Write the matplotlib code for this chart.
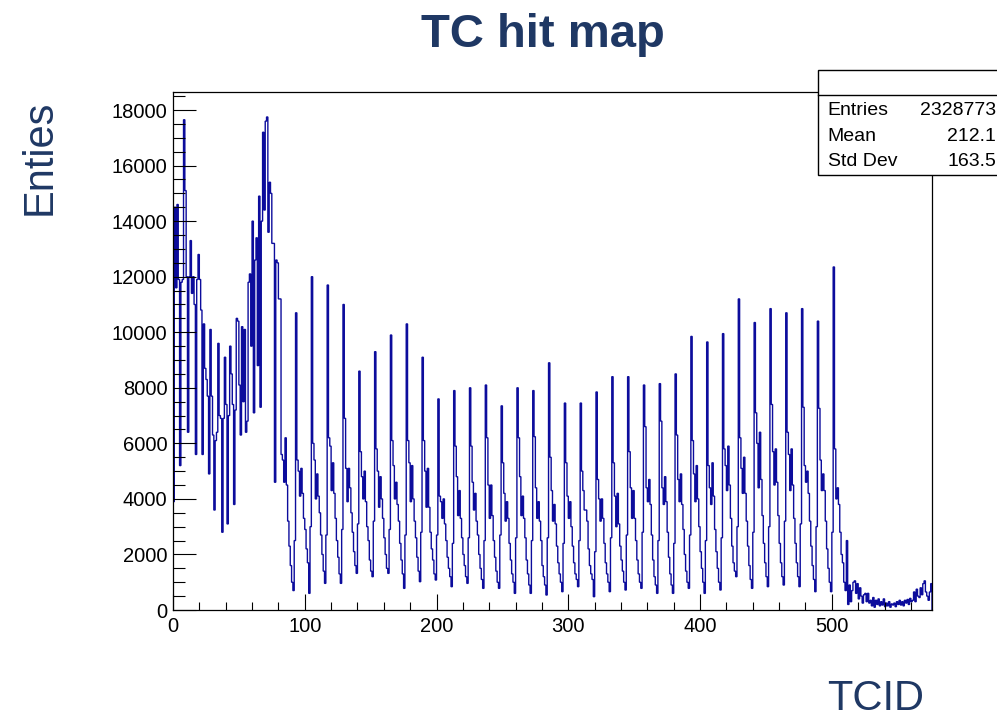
import numpy as np
import matplotlib
matplotlib.use("Agg")
import matplotlib.pyplot as plt
from matplotlib.patches import Rectangle
from matplotlib.lines import Line2D
from matplotlib.ticker import MultipleLocator

plt.rcParams['font.family'] = ['Liberation Sans', 'DejaVu Sans']

# Hits per trigger cell, TCID 0..80 (forward endcap)
forward_endcap = [
    3900, 14500, 11600, 14600, 11900, 5200, 11800, 11900, 17650, 15100,
    12000, 6400, 12000, 13300, 11400, 12000, 11000, 5600, 11900, 12800,
    11900, 10800, 5600, 10300, 8700, 8300, 7700, 4900, 10100, 7700,
    6300, 3600, 6100, 6400, 9600, 7000, 6900, 2800, 6900, 9100,
    7400, 3100, 7000, 9500, 8500, 7400, 3800, 7200, 10500, 10400,
    8100, 6300, 10200, 7500, 10100, 6400, 6800, 11800, 12100, 9500,
    14000, 7100, 12600, 13400, 8800, 14900, 7300, 14000, 17200, 14400,
    17600, 17750, 13600, 15400, 15000, 13200, 13200, 4600, 12600, 12500,
    11200,
]

# Barrel, TCID 81..512: one row of 12 cells per phi sector
barrel = [
    [11200, 5600, 5400, 4600, 6200, 4500, 3200, 2300, 1600, 1000, 700, 2500],
    [10700, 5400, 5000, 4100, 5100, 4200, 3300, 2900, 2200, 1700, 600, 3000],
    [12000, 6000, 5400, 4000, 4900, 4100, 3500, 2700, 2000, 1400, 960, 2700],
    [11700, 6200, 5900, 4300, 5300, 4200, 3300, 2500, 1900, 1300, 960, 2900],
    [11000, 6900, 5100, 3900, 5100, 4400, 3500, 2800, 2100, 1600, 1320, 3100],
    [8600, 5700, 4800, 4000, 5000, 3900, 3000, 2500, 1800, 1400, 1200, 3200],
    [9300, 5800, 5000, 3700, 4800, 4000, 3300, 2600, 2000, 1500, 1320, 2900],
    [9900, 6100, 5200, 4000, 4600, 3800, 3200, 2400, 1800, 1300, 780, 2700],
    [10300, 6100, 5300, 3900, 5200, 4000, 3200, 2600, 1900, 1400, 1020, 2800],
    [9100, 6100, 5000, 3700, 5100, 3700, 2800, 2200, 1800, 1300, 1080, 2700],
    [7600, 4100, 3900, 3300, 4000, 3100, 2500, 1900, 1500, 1200, 840, 2400],
    [7900, 5900, 4800, 3400, 4300, 3300, 2600, 2000, 1600, 1200, 960, 2600],
    [8000, 5900, 4600, 3600, 4200, 3200, 2700, 2000, 1500, 1100, 780, 2500],
    [8100, 6200, 4500, 3300, 4500, 3400, 2500, 1900, 1400, 1000, 780, 2700],
    [7350, 5300, 4200, 3200, 3900, 3300, 2400, 1800, 1300, 1000, 600, 2600],
    [8000, 6200, 4800, 3400, 4100, 3300, 2600, 1800, 1300, 900, 600, 2500],
    [7900, 6240, 4400, 3300, 3900, 3200, 2500, 1600, 1200, 900, 540, 2600],
    [8900, 5500, 4300, 3200, 3800, 3100, 2300, 1700, 1300, 1000, 660, 2400],
    [7450, 5300, 4100, 3300, 3900, 3000, 2300, 1700, 1300, 1100, 840, 2500],
    [7450, 5000, 4300, 3600, 3600, 3200, 2200, 1600, 1300, 1100, 480, 2100],
    [7850, 4700, 4000, 3200, 4000, 3300, 2400, 1700, 1300, 1000, 660, 2600],
    [8400, 5300, 4100, 3000, 4200, 3100, 2300, 1800, 1400, 1000, 720, 2700],
    [8400, 5700, 4400, 3300, 4300, 3300, 2500, 1800, 1300, 1000, 780, 2800],
    [8100, 6600, 4400, 3900, 4700, 3800, 2700, 1800, 1200, 900, 600, 2500],
    [8150, 6800, 4400, 3800, 4800, 3900, 2800, 1900, 1300, 900, 600, 2400],
    [8500, 6300, 4700, 3900, 4900, 3800, 2900, 2000, 1400, 1000, 780, 2700],
    [9850, 6100, 4900, 3900, 5200, 4000, 3000, 2100, 1500, 1000, 600, 2500],
    [9650, 5200, 4400, 3800, 5300, 4100, 2900, 2100, 1500, 1000, 720, 2600],
    [9950, 5800, 5200, 4300, 5900, 4500, 3300, 2300, 1700, 1400, 1200, 3000],
    [11200, 6200, 5100, 4200, 5500, 4200, 3200, 2300, 1600, 1100, 780, 2800],
    [10350, 7100, 6000, 4400, 6400, 4700, 3400, 2400, 1700, 1200, 840, 3000],
    [10850, 7400, 5700, 4500, 5800, 4600, 3400, 2400, 1700, 1200, 900, 3200],
    [10700, 6400, 5600, 4300, 5800, 4500, 3300, 2400, 1700, 1200, 840, 3100],
    [10850, 7300, 5200, 4600, 5000, 4200, 3200, 2300, 1600, 1100, 660, 3000],
    [10400, 7260, 5400, 4300, 4900, 4300, 3200, 2200, 1500, 1000, 660, 2800],
    [12350, 5800, 4000, 4400, 3800, 2800, 2000, 1700, 1000, 700, 2500, 200],
]

# Backward endcap, TCID 513..575
backward_endcap = [
    900, 300, 700, 1000, 1050, 600, 950, 400, 800, 500,
    250, 550, 600, 300, 600, 250, 350, 150, 450, 100,
    350, 200, 400, 150, 300, 180, 400, 120, 250, 150,
    300, 100, 220, 180, 250, 120, 300, 200, 350, 180,
    300, 150, 350, 250, 380, 200, 420, 300, 350, 650,
    300, 750, 500, 450, 800, 550, 950, 1050, 650, 500,
    350, 650, 950,
]

stat_labels = ["Entries", "Mean", "Std Dev"]
stat_values = ["2328773", "212.1", "163.5"]

counts = np.concatenate([forward_endcap, np.ravel(barrel), backward_endcap])
edges = np.arange(len(counts) + 1)

navy = "#1f3864"
line_blue = "#0c0c9c"

fig = plt.figure(figsize=(9.97, 7.22), dpi=100)
fig.patch.set_facecolor("white")
ax = fig.add_axes([0.1735, 0.1551, 0.7613, 0.7175])

ax.stairs(counts, edges, color=line_blue, lw=1.0)

ax.set_xlim(0, 576)
ax.set_ylim(0, 18650)
ax.xaxis.set_major_locator(MultipleLocator(100))
ax.xaxis.set_minor_locator(MultipleLocator(20))
ax.yaxis.set_major_locator(MultipleLocator(2000))
ax.yaxis.set_minor_locator(MultipleLocator(500))
ax.tick_params(which="both", direction="in", top=False, right=False,
               labelsize=14.5, width=0.8, colors="black")
ax.tick_params(axis="y", which="major", length=16.5, pad=4)
ax.tick_params(axis="y", which="minor", length=8.5)
ax.tick_params(axis="x", which="major", length=11.5, pad=5)
ax.tick_params(axis="x", which="minor", length=6)
for sp in ax.spines.values():
    sp.set_linewidth(0.9)
    sp.set_color("black")

# Title and axis captions
fig.text(0.545, 0.9515, "TC hit map", ha="center", va="center",
         fontsize=34, fontweight="bold", color=navy)
fig.text(0.040, 0.7825, "Enties", ha="center", va="center",
         fontsize=30, rotation=90, color=navy)
fig.text(0.8786, 0.0035, "TCID", ha="center", va="bottom",
         fontsize=30, color=navy)

# Statistics box
box_left, box_bottom, box_top, box_sep = 0.8205, 0.7576, 0.9030, 0.8684
fig.add_artist(Rectangle((box_left, box_bottom), 0.3, box_top - box_bottom,
                         transform=fig.transFigure, facecolor="white",
                         edgecolor="black", lw=1.0, zorder=5))
fig.add_artist(Line2D([box_left, box_left + 0.3], [box_sep, box_sep],
                      transform=fig.transFigure, color="black", lw=1.0, zorder=6))
row_y = [1 - 110.5 / 722, 1 - 136.5 / 722, 1 - 161.5 / 722]
for lab, val, yy in zip(stat_labels, stat_values, row_y):
    fig.text(0.830, yy, lab, ha="left", va="center", fontsize=14, zorder=7)
    fig.text(0.999, yy, val, ha="right", va="center", fontsize=14, zorder=7)

fig.savefig("out.png", dpi=100)
